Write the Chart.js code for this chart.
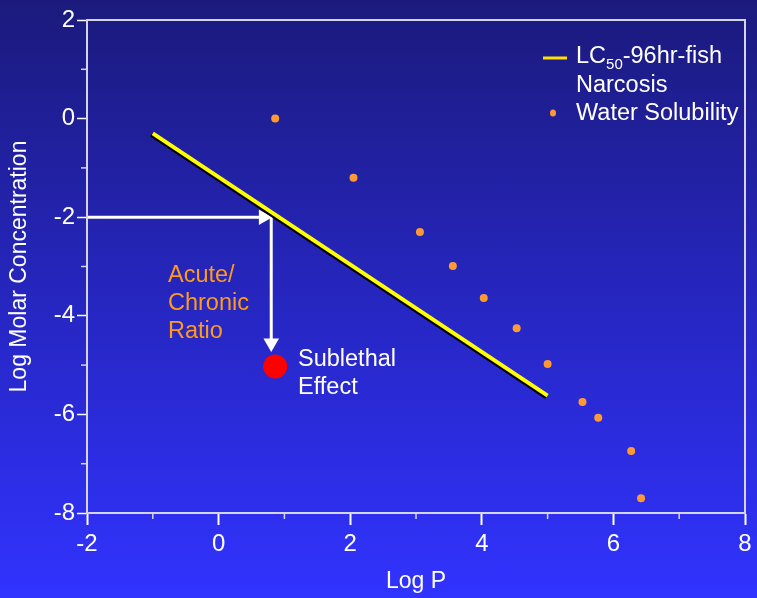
<!DOCTYPE html>
<html>
<head>
<meta charset="utf-8">
<script src="https://cdn.jsdelivr.net/npm/chart.js@4.4.0/dist/chart.umd.min.js"></script>
<style>
  html, body { margin: 0; padding: 0; }
  body { width: 757px; height: 598px; background: linear-gradient(to bottom, #1b1a7c 0%, #2626c0 50%, #3133ff 100%); overflow: hidden; }
  canvas { display: block; }
</style>
</head>
<body>
<canvas id="chart" width="757" height="598"></canvas>
<script>
// LC50 narcosis line (Log P vs Log molar concentration)
var lcLogP = [-1, 5];
var lcConc = [-0.3, -5.62];
// water solubility points
var wsLogP = [0.86, 2.05, 3.06, 3.56, 4.03, 4.53, 5.0, 5.53, 5.77, 6.27, 6.42];
var wsConc = [0.0, -1.2, -2.3, -2.99, -3.64, -4.25, -4.98, -5.75, -6.07, -6.74, -7.7];
// sublethal effect
var subLogP = [0.86];
var subConc = [-5.03];
// acute/chronic arrow
var arrowHx = [-2, 0.68];
var arrowHy = [-2, -2];
var arrowVx = [0.8, 0.8];
var arrowVy = [-2, -4.55];

function pts(xs, ys) {
  return xs.map(function (x, i) { return { x: x, y: ys[i] }; });
}

var FONT = "'Liberation Sans', Arial, sans-serif";

var shadowPlugin = {
  id: "shadow",
  beforeDatasetDraw: function (chart, args) {
    if (args.index === 0) {
      var ctx = chart.ctx;
      ctx.save();
      ctx.shadowColor = "#000000";
      ctx.shadowOffsetX = -1.5;
      ctx.shadowOffsetY = 1.5;
      ctx.shadowBlur = 0;
    }
  },
  afterDatasetDraw: function (chart, args) {
    if (args.index === 0) chart.ctx.restore();
  }
};

var extrasPlugin = {
  id: "extras",
  afterDraw: function (chart) {
    var ctx = chart.ctx;
    var a = chart.chartArea;
    var xs = chart.scales.x, ys = chart.scales.y;
    ctx.save();
    // frame
    ctx.strokeStyle = "#d4d4ec";
    ctx.lineWidth = 2;
    ctx.strokeRect(a.left, a.top, a.right - a.left, a.bottom - a.top);
    // minor ticks
    ctx.lineWidth = 1.5;
    for (var v = -1; v <= 7; v += 2) {
      var px = xs.getPixelForValue(v);
      ctx.beginPath(); ctx.moveTo(px, a.bottom); ctx.lineTo(px, a.bottom + 6); ctx.stroke();
    }
    for (var w = -7; w <= 1; w += 2) {
      var py = ys.getPixelForValue(w);
      ctx.beginPath(); ctx.moveTo(a.left, py); ctx.lineTo(a.left - 6, py); ctx.stroke();
    }
    // legend
    ctx.strokeStyle = "#ffe000";
    ctx.lineWidth = 3;
    ctx.beginPath(); ctx.moveTo(543, 58); ctx.lineTo(567, 58); ctx.stroke();
    ctx.fillStyle = "#ffffff";
    ctx.textBaseline = "middle";
    ctx.textAlign = "left";
    ctx.font = "23.5px " + FONT;
    ctx.fillText("LC", 576, 57);
    var w1 = ctx.measureText("LC").width;
    ctx.font = "15px " + FONT;
    ctx.fillText("50", 576 + w1, 65);
    var w2 = ctx.measureText("50").width;
    ctx.font = "23.5px " + FONT;
    ctx.fillText("-96hr-fish", 576 + w1 + w2, 57);
    ctx.fillText("Narcosis", 576, 86);
    ctx.fillText("Water Solubility", 576, 114);
    ctx.fillStyle = "#ff9933";
    ctx.beginPath(); ctx.ellipse(553, 113, 3, 3.5, 0, 0, Math.PI * 2); ctx.fill();
    // annotations
    ctx.fillStyle = "#ff9a1e";
    ctx.fillText("Acute/", 168, 276);
    ctx.fillText("Chronic", 168, 304);
    ctx.fillText("Ratio", 168, 332);
    ctx.fillStyle = "#ffffff";
    ctx.fillText("Sublethal", 298, 360);
    ctx.fillText("Effect", 298, 388);
    ctx.restore();
  }
};

new Chart(document.getElementById("chart"), {
  type: "scatter",
  data: {
    datasets: [
      {
        label: "LC50-96hr-fish Narcosis",
        data: pts(lcLogP, lcConc),
        showLine: true,
        borderColor: "#ffff00",
        borderWidth: 4,
        pointRadius: 0,
        borderCapStyle: "butt"
      },
      {
        label: "Water Solubility",
        data: pts(wsLogP, wsConc),
        backgroundColor: "#ff9933",
        borderWidth: 0,
        pointRadius: 4
      },
      {
        label: "Sublethal Effect",
        data: pts(subLogP, subConc),
        backgroundColor: "#ff0000",
        borderWidth: 0,
        pointRadius: 12
      },
      {
        label: "arrowH",
        data: pts(arrowHx, arrowHy),
        showLine: true,
        borderColor: "#ffffff",
        borderWidth: 3,
        backgroundColor: "#ffffff",
        pointStyle: "triangle",
        pointRotation: 90,
        pointRadius: [0, 9],
        pointBorderWidth: 0
      },
      {
        label: "arrowV",
        data: pts(arrowVx, arrowVy),
        showLine: true,
        borderColor: "#ffffff",
        borderWidth: 3,
        backgroundColor: "#ffffff",
        pointStyle: "triangle",
        pointRotation: 180,
        pointRadius: [0, 9],
        pointBorderWidth: 0
      }
    ]
  },
  options: {
    responsive: false,
    animation: false,
    layout: { padding: { top: 20, right: 10, left: 0, bottom: 0 } },
    plugins: {
      legend: { display: false },
      tooltip: { enabled: false }
    },
    scales: {
      x: {
        type: "linear",
        min: -2,
        max: 8,
        ticks: { stepSize: 2, color: "#ffffff", font: { family: FONT, size: 24 }, padding: 5 },
        grid: { drawOnChartArea: false, color: "#ffffff", tickLength: 12, tickWidth: 2 },
        border: { color: "#d4d4ec", width: 2 },
        title: { display: true, text: "Log P", color: "#ffffff", font: { family: FONT, size: 23 }, padding: { top: 0, bottom: 3 } },
        afterFit: function (s) { s.height = 85; }
      },
      y: {
        type: "linear",
        min: -8,
        max: 2,
        ticks: { stepSize: 2, color: "#ffffff", font: { family: FONT, size: 24 }, padding: 2 },
        grid: { drawOnChartArea: false, color: "#ffffff", tickLength: 10, tickWidth: 1.5 },
        border: { color: "#d4d4ec", width: 2 },
        title: { display: true, text: "Log Molar Concentration", color: "#ffffff", font: { family: FONT, size: 23 }, padding: { top: 6, bottom: 0 } },
        afterFit: function (s) { s.width = 87; }
      }
    }
  },
  plugins: [shadowPlugin, extrasPlugin]
});
</script>
</body>
</html>
